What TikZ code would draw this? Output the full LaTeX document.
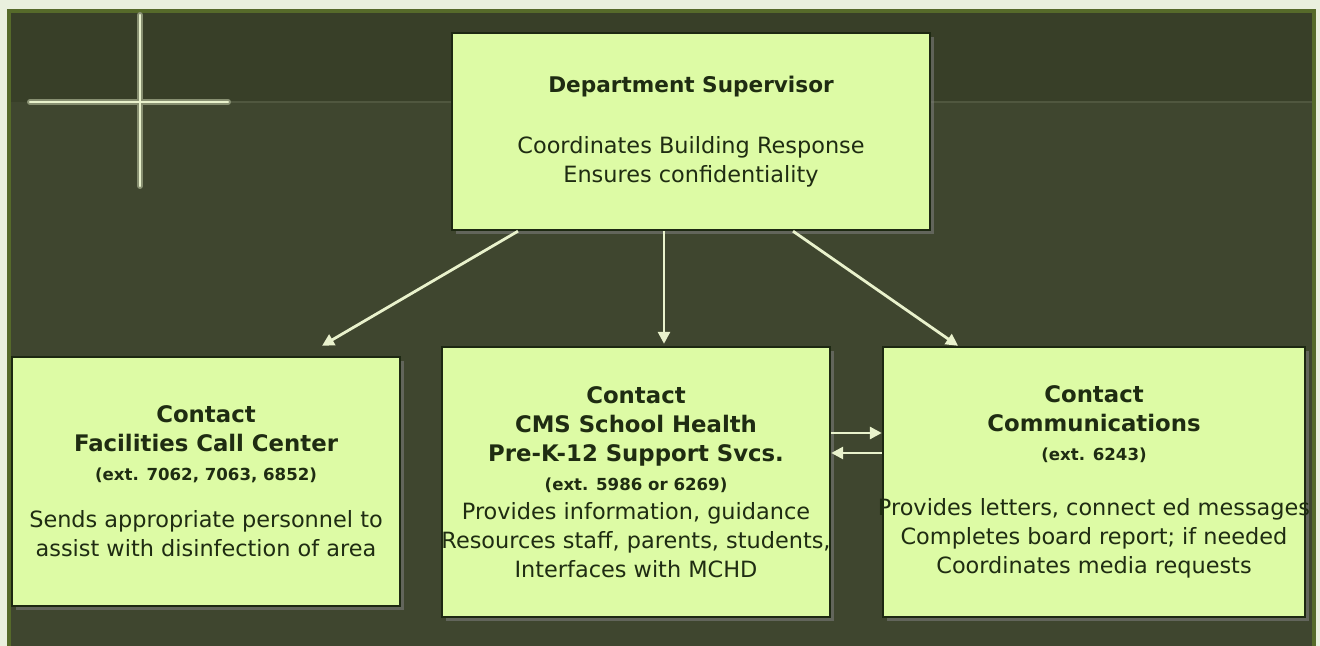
\documentclass[tikz,border=0pt]{standalone}
\usepackage{fontspec}
\setmainfont{DejaVu Sans}
\usepackage{tikz}
\usetikzlibrary{positioning,arrows.meta,shadows}
\usepackage{xcolor}
\definecolor{pagebg}{HTML}{EAF0DE}
\definecolor{frameolive}{HTML}{566A2A}
\definecolor{paneltop}{HTML}{383F28}
\definecolor{panelbot}{HTML}{3F462F}
\definecolor{boxlime}{HTML}{DDFBA5}
\definecolor{boxedge}{HTML}{1D2812}
\definecolor{ink}{HTML}{1F2C12}
\definecolor{linklight}{HTML}{E9F2CC}

\newcommand{\hd}{\fontsize{11.4}{14.5}\selectfont\bfseries}
\newcommand{\ext}[1]{{\fontsize{8.3}{14.5}\selectfont\bfseries #1}}

\begin{document}
\begin{tikzpicture}[
          x=0.5pt,y=-0.5pt,
          box/.style={draw=boxedge,line width=1.2pt,fill=boxlime,text=ink,inner sep=0pt,
                      align=center,font=\fontsize{11.2}{14.5}\selectfont,
                      drop shadow={opacity=0.55,shadow xshift=2pt,shadow yshift=-2pt}},
          link/.style={draw=linklight,line width=1.4pt,
                       -{Triangle[length=6pt,width=6pt,fill=linklight]}}]
        \useasboundingbox (0,0) rectangle (1320,646);
        % panel behind the chart
        \fill[pagebg] (0,0) rectangle (1320,646);
        \fill[frameolive] (7,9) rectangle (1316,646);
        \fill[paneltop] (11,13) rectangle (1312,102);
        \fill[panelbot] (11,102) rectangle (1312,646);
        \draw[panelbot!90!linklight,line width=0.6pt] (230,102) -- (1312,102);
        % crosshair ornament
        \draw[linklight!45!paneltop,line width=3pt,line cap=round] (140,15) -- (140,186) (30,102) -- (228,102);
        \draw[linklight,line width=1.3pt,line cap=round] (140,15) -- (140,186) (30,102) -- (228,102);

        \node[box,minimum width=239pt,minimum height=98.5pt] (sup) at (691,131.5)
              {{\fontsize{10.8}{14.5}\selectfont\bfseries Department Supervisor}\\[16pt]
               Coordinates Building Response\\
               Ensures confidentiality};
        \node[box,minimum width=194pt,minimum height=124.5pt] (fac) at (206,481.5)
              {\hd Contact\\
               \hd Facilities Call Center\\
               \ext{(ext. 7062, 7063, 6852)}\\[9pt]
               Sends appropriate personnel to\\
               assist with disinfection of area};
        \node[box,minimum width=194pt,minimum height=135pt] (health) at (636,482)
              {\hd Contact\\
               \hd CMS School Health\\
               \hd Pre-K-12 Support Svcs.\\
               \ext{(ext. 5986 or 6269)}\\
               Provides information, guidance\\
               \makebox[0pt]{Resources staff, parents, students,}\\
               Interfaces with MCHD};
        \node[box,minimum width=211pt,minimum height=135pt] (comm) at (1094,482)
              {\hd Contact\\
               \hd Communications\\
               \ext{(ext. 6243)}\\[13pt]
               \makebox[0pt]{Provides letters, connect ed messages}\\
               Completes board report; if needed\\
               Coordinates media requests};

        \draw[link] ([xshift=-86.5pt]sup.south) -- ([xshift=58pt,yshift=5pt]fac.north);
        \draw[link] ([xshift=-13.5pt]sup.south) -- ([xshift=14pt,yshift=1pt]health.north);
        \draw[link] ([xshift=51pt]sup.south) -- ([xshift=-68pt]comm.north);
        \draw[link] ([yshift=24.5pt]health.east) -- ([yshift=24.5pt]comm.west);
        \draw[link] ([yshift=14.5pt]comm.west) -- ([yshift=14.5pt]health.east);
      \end{tikzpicture}
\end{document}
